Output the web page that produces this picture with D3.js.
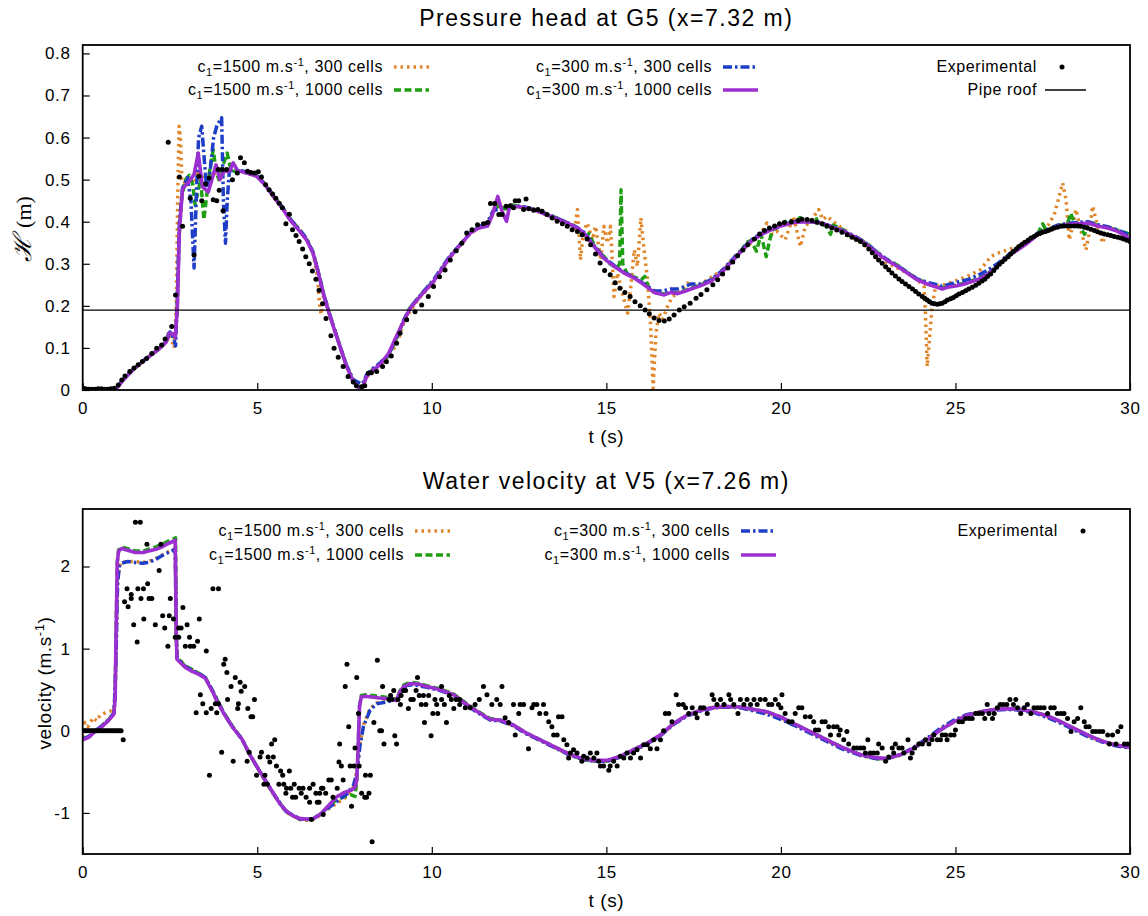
<!DOCTYPE html>
<html>
<head>
<meta charset="utf-8">
<script src="https://cdn.jsdelivr.net/npm/d3@7"></script>
<style>
body { margin: 0; background: #fff; }
svg text { font-family: "Liberation Sans", Arial, sans-serif; fill: #000; }
.ticklbl { font-size: 17px; letter-spacing: 0.7px; }
.title { font-size: 23px; letter-spacing: 1.5px; }
.legend { font-size: 16px; letter-spacing: 0.6px; }
.axlbl { font-size: 19px; letter-spacing: 0.6px; }
</style>
</head>
<body>
<svg id="chart" width="1148" height="916"></svg>
<script>
// ---- data ----
var xTicks = [0, 5, 10, 15, 20, 25, 30];
var headTicks = [0, 0.1, 0.2, 0.3, 0.4, 0.5, 0.6, 0.7, 0.8];
var velTicks = [-1, 0, 1, 2];
var pipeRoof = 0.19;

var legendSpeeds = ["1500", "1500", "300", "300"];
var legendCells = ["300", "1000", "300", "1000"];

// pressure head at G5 (t [s], H [m])
var headOrange = [[0,.003],[0.95,.002],[1.16,.024],[1.45,.049],[1.83,.075],[2.21,.099],[2.4,.115],[2.5,.13],[2.62,.1],[2.68,.2],[2.72,.45],[2.76,.627],[2.8,.6],[2.84,.5],[2.9,.49],[3.0,.505],[3.1,.5],[3.2,.49],[3.3,.515],[3.4,.49],[3.5,.51],[3.6,.5],[3.7,.52],[3.8,.515],[3.9,.525],[4.05,.52],[4.3,.525],[4.6,.518],[5.0,.508],[5.22,.49],[5.46,.462],[5.74,.432],[6.0,.4],[6.22,.38],[6.41,.36],[6.6,.325],[6.72,.27],[6.8,.19],[6.84,.18],[6.9,.225],[7.03,.19],[7.18,.151],[7.37,.103],[7.56,.056],[7.75,.02],[7.9,.006],[8.02,.008],[8.13,.03],[8.27,.045],[8.51,.058],[8.75,.078],[9.0,.11],[9.2,.16],[9.4,.19],[9.66,.22],[10.05,.256],[10.53,.315],[10.86,.348],[11.1,.372],[11.34,.384],[11.6,.392],[11.75,.42],[11.9,.445],[12.05,.43],[12.2,.43],[12.5,.435],[12.92,.428],[13.4,.412],[13.88,.396],[14.1,.385],[14.17,.429],[14.26,.309],[14.34,.373],[14.45,.397],[14.6,.357],[14.69,.389],[14.84,.309],[14.93,.389],[15.03,.349],[15.12,.389],[15.22,.222],[15.32,.278],[15.41,.246],[15.51,.214],[15.61,.183],[15.7,.246],[15.8,.333],[15.89,.294],[15.99,.409],[16.08,.333],[16.18,.262],[16.27,.151],[16.34,.004],[16.42,.135],[16.51,.183],[16.61,.167],[16.75,.198],[16.89,.222],[17.04,.229],[17.32,.254],[17.61,.246],[17.9,.262],[18.19,.278],[18.4,.29],[18.67,.317],[18.9,.335],[19.14,.349],[19.43,.373],[19.6,.397],[19.75,.37],[19.89,.377],[20.12,.357],[20.36,.413],[20.56,.341],[20.7,.39],[20.84,.4],[21.08,.429],[21.2,.405],[21.32,.413],[21.61,.393],[21.89,.377],[22.18,.357],[22.47,.341],[22.76,.325],[23.04,.302],[23.33,.29],[23.62,.278],[23.9,.262],[24.1,.246],[24.14,.183],[24.19,.056],[24.27,.135],[24.33,.198],[24.43,.246],[24.67,.25],[24.96,.258],[25.34,.27],[25.72,.286],[26.01,.317],[26.2,.325],[26.49,.333],[26.78,.341],[27.06,.357],[27.35,.365],[27.64,.389],[27.83,.417],[27.97,.46],[28.07,.492],[28.17,.452],[28.26,.357],[28.35,.389],[28.45,.429],[28.59,.381],[28.74,.333],[28.83,.373],[28.93,.437],[29.07,.389],[29.22,.349],[29.36,.389],[29.55,.381],[29.74,.373],[30,.365]];

var headGreen = [[0,.002],[0.95,.002],[1.16,.024],[1.45,.049],[1.83,.075],[2.21,.099],[2.4,.115],[2.47,.14],[2.58,.13],[2.65,.12],[2.71,.2],[2.76,.36],[2.84,.46],[2.95,.5],[3.05,.51],[3.15,.49],[3.22,.44],[3.3,.47],[3.38,.5],[3.47,.405],[3.55,.46],[3.65,.53],[3.74,.571],[3.82,.52],[3.9,.5],[4.0,.53],[4.14,.563],[4.25,.52],[4.5,.52],[4.98,.51],[5.22,.49],[5.46,.462],[5.74,.432],[5.93,.408],[6.22,.38],[6.41,.36],[6.6,.327],[6.75,.28],[6.89,.232],[7.03,.192],[7.18,.152],[7.37,.104],[7.56,.057],[7.75,.022],[7.9,.007],[8.02,.008],[8.13,.034],[8.27,.046],[8.51,.062],[8.75,.08],[9.0,.125],[9.19,.165],[9.38,.196],[9.66,.224],[10.05,.26],[10.53,.318],[10.86,.35],[11.1,.374],[11.34,.386],[11.6,.395],[11.8,.43],[11.95,.44],[12.1,.43],[12.3,.44],[12.6,.435],[12.92,.43],[13.4,.415],[13.88,.398],[14.17,.386],[14.3,.37],[14.4,.36],[14.5,.372],[14.65,.345],[14.8,.325],[14.93,.318],[15.1,.3],[15.3,.29],[15.38,.3],[15.42,.476],[15.47,.3],[15.6,.275],[15.8,.268],[16.0,.262],[16.1,.27],[16.2,.245],[16.37,.232],[16.66,.228],[16.85,.233],[17.04,.23],[17.23,.236],[17.42,.242],[17.71,.25],[17.99,.26],[18.29,.28],[18.57,.305],[18.86,.33],[19.0,.35],[19.14,.355],[19.3,.33],[19.43,.37],[19.58,.317],[19.65,.345],[19.75,.38],[20.0,.39],[20.2,.405],[20.36,.398],[20.55,.41],[20.75,.398],[21.0,.41],[21.08,.395],[21.3,.39],[21.42,.37],[21.5,.392],[21.8,.38],[22.0,.365],[22.18,.362],[22.47,.348],[22.76,.327],[23.04,.31],[23.33,.297],[23.62,.28],[23.9,.264],[24.19,.254],[24.48,.246],[24.62,.242],[24.77,.246],[25.05,.25],[25.34,.256],[25.63,.264],[25.91,.276],[26.2,.296],[26.49,.319],[26.78,.335],[27.06,.351],[27.35,.37],[27.5,.395],[27.6,.38],[27.93,.39],[28.21,.395],[28.3,.42],[28.4,.4],[28.5,.396],[28.7,.37],[28.79,.398],[29.07,.392],[29.36,.387],[29.65,.38],[30,.37]];

var headBlue = [[0,.003],[0.95,.002],[1.16,.026],[1.45,.05],[1.83,.076],[2.21,.1],[2.4,.116],[2.5,.138],[2.6,.125],[2.66,.105],[2.71,.22],[2.77,.4],[2.86,.48],[3.0,.505],[3.1,.45],[3.19,.29],[3.25,.45],[3.32,.6],[3.41,.627],[3.48,.55],[3.55,.48],[3.65,.52],[3.75,.6],[3.85,.63],[3.98,.647],[4.03,.45],[4.09,.349],[4.14,.45],[4.2,.52],[4.4,.525],[4.7,.518],[4.98,.51],[5.22,.49],[5.46,.462],[5.74,.432],[5.93,.408],[6.22,.38],[6.41,.36],[6.6,.327],[6.75,.28],[6.89,.232],[7.03,.192],[7.18,.152],[7.37,.104],[7.56,.058],[7.75,.025],[7.9,.018],[8.02,.015],[8.13,.036],[8.27,.048],[8.51,.064],[8.75,.082],[9.0,.125],[9.19,.165],[9.38,.196],[9.66,.224],[10.05,.262],[10.53,.32],[10.86,.35],[11.1,.374],[11.34,.386],[11.6,.4],[11.75,.425],[11.9,.43],[12.1,.435],[12.54,.437],[12.92,.43],[13.4,.415],[13.88,.398],[14.17,.386],[14.36,.375],[14.65,.343],[14.93,.315],[15.22,.296],[15.51,.28],[15.8,.268],[16.08,.252],[16.37,.236],[16.6,.235],[16.85,.24],[17.04,.24],[17.23,.245],[17.42,.252],[17.71,.252],[17.99,.262],[18.29,.282],[18.57,.307],[18.86,.332],[19.14,.356],[19.43,.372],[19.72,.383],[20.0,.392],[20.36,.4],[20.75,.401],[21.08,.399],[21.42,.39],[21.8,.378],[22.18,.363],[22.47,.347],[22.76,.327],[23.04,.31],[23.33,.296],[23.62,.28],[23.9,.264],[24.19,.256],[24.48,.25],[24.62,.246],[24.77,.25],[25.05,.256],[25.34,.262],[25.63,.272],[25.91,.284],[26.2,.3],[26.49,.32],[26.78,.337],[27.06,.353],[27.35,.372],[27.64,.382],[27.93,.392],[28.21,.396],[28.5,.398],[28.79,.4],[29.07,.393],[29.36,.388],[29.65,.38],[30,.368]];

var headPurple = [[0,.002],[0.5,.001],[0.95,.002],[1.16,.024],[1.45,.049],[1.83,.075],[2.21,.099],[2.4,.115],[2.47,.135],[2.58,.133],[2.65,.125],[2.71,.194],[2.77,.381],[2.86,.478],[3.09,.5],[3.19,.512],[3.31,.563],[3.43,.483],[3.6,.471],[3.82,.535],[3.93,.5],[4.05,.52],[4.2,.52],[4.31,.54],[4.43,.522],[4.69,.516],[4.98,.508],[5.22,.488],[5.46,.46],[5.74,.429],[5.93,.405],[6.22,.377],[6.41,.357],[6.6,.325],[6.75,.278],[6.89,.23],[7.03,.19],[7.18,.151],[7.37,.103],[7.56,.056],[7.75,.02],[7.9,.006],[8.02,.006],[8.13,.032],[8.27,.044],[8.51,.06],[8.75,.085],[9.0,.13],[9.19,.163],[9.38,.194],[9.66,.222],[10.05,.258],[10.53,.317],[10.86,.349],[11.1,.373],[11.34,.385],[11.6,.39],[11.72,.413],[11.89,.46],[12.01,.425],[12.14,.401],[12.23,.437],[12.54,.435],[12.92,.429],[13.4,.413],[13.88,.397],[14.17,.385],[14.36,.373],[14.65,.341],[14.93,.313],[15.22,.294],[15.51,.278],[15.8,.266],[16.08,.25],[16.37,.232],[16.66,.226],[16.85,.232],[17.04,.229],[17.23,.234],[17.42,.24],[17.71,.248],[17.99,.258],[18.29,.278],[18.57,.303],[18.86,.329],[19.14,.353],[19.43,.369],[19.72,.381],[20.0,.39],[20.36,.398],[20.75,.4],[21.08,.398],[21.42,.389],[21.8,.377],[22.18,.361],[22.47,.345],[22.76,.325],[23.04,.308],[23.33,.294],[23.62,.278],[23.9,.262],[24.19,.252],[24.48,.244],[24.62,.24],[24.77,.244],[25.05,.248],[25.34,.254],[25.63,.262],[25.91,.274],[26.2,.294],[26.49,.317],[26.78,.333],[27.06,.349],[27.35,.369],[27.64,.379],[27.93,.389],[28.21,.393],[28.5,.395],[28.79,.397],[29.07,.39],[29.36,.385],[29.65,.377],[30,.36]];

var headExp = [[0,.005],[0.08,.003],[0.17,.002],[0.26,.002],[0.35,.002],[0.44,.003],[0.53,.003],[0.62,.002],[0.71,.002],[0.8,.003],[0.9,.004],[1.02,.012],[1.12,.024],[1.21,.033],[1.35,.044],[1.47,.052],[1.59,.06],[1.71,.068],[1.83,.075],[1.98,.087],[2.12,.099],[2.26,.107],[2.36,.121],[2.45,.589],[2.55,.151],[2.66,.226],[2.77,.506],[2.86,.389],[3.08,.456],[3.19,.321],[3.33,.508],[3.41,.45],[3.52,.49],[3.62,.504],[3.74,.452],[3.84,.45],[3.88,.524],[3.91,.475],[4.0,.524],[4.02,.426],[4.12,.524],[4.29,.5],[4.43,.516],[4.52,.552],[4.63,.54],[4.72,.52],[4.82,.517],[4.93,.516],[5.03,.519],[5.12,.506],[5.24,.488],[5.34,.476],[5.44,.466],[5.53,.456],[5.63,.444],[5.72,.433],[5.82,.395],[5.92,.418],[6.01,.381],[6.11,.367],[6.2,.353],[6.3,.335],[6.39,.317],[6.49,.3],[6.58,.283],[6.68,.263],[6.77,.237],[6.87,.205],[6.97,.17],[7.11,.129],[7.2,.099],[7.32,.078],[7.46,.056],[7.6,.032],[7.75,.019],[7.84,.01],[7.99,.008],[8.08,.01],[8.18,.04],[8.27,.041],[8.42,.044],[8.59,.056],[8.7,.067],[8.84,.081],[8.99,.111],[9.09,.135],[9.28,.167],[9.52,.186],[9.71,.202],[9.9,.222],[10.05,.246],[10.22,.269],[10.38,.285],[10.53,.309],[10.7,.331],[10.86,.349],[11.0,.373],[11.15,.381],[11.31,.393],[11.48,.395],[11.6,.398],[11.68,.443],[11.8,.443],[11.92,.417],[12.01,.417],[12.13,.437],[12.25,.438],[12.34,.433],[12.39,.45],[12.49,.45],[12.63,.429],[12.7,.454],[12.78,.431],[12.92,.427],[13.04,.429],[13.16,.425],[13.3,.417],[13.45,.409],[13.59,.401],[13.74,.395],[13.88,.389],[14.02,.381],[14.17,.377],[14.31,.369],[14.45,.359],[14.55,.345],[14.69,.323],[14.82,.302],[14.95,.284],[15.11,.274],[15.25,.255],[15.39,.242],[15.53,.232],[15.68,.222],[15.82,.21],[15.97,.2],[16.11,.19],[16.23,.181],[16.37,.171],[16.51,.165],[16.66,.164],[16.8,.169],[16.94,.178],[17.09,.19],[17.23,.198],[17.4,.206],[17.57,.218],[17.71,.227],[17.88,.238],[18.05,.25],[18.19,.262],[18.33,.276],[18.48,.29],[18.62,.304],[18.76,.319],[18.91,.333],[19.05,.345],[19.24,.359],[19.39,.371],[19.53,.379],[19.67,.385],[19.82,.39],[19.96,.395],[20.1,.398],[20.3,.4],[20.49,.403],[20.6,.406],[20.75,.405],[20.89,.403],[21.03,.399],[21.18,.395],[21.32,.39],[21.46,.385],[21.6,.38],[21.75,.375],[21.9,.369],[22.04,.363],[22.16,.358],[22.28,.353],[22.4,.345],[22.52,.335],[22.62,.326],[22.71,.317],[22.8,.309],[22.9,.301],[23.0,.293],[23.09,.286],[23.18,.278],[23.28,.271],[23.38,.264],[23.47,.258],[23.57,.252],[23.67,.246],[23.77,.24],[23.86,.234],[23.95,.228],[24.05,.222],[24.12,.218],[24.19,.214],[24.26,.21],[24.33,.206],[24.4,.205],[24.48,.204],[24.55,.205],[24.62,.206],[24.7,.21],[24.77,.214],[24.86,.217],[24.94,.22],[25.02,.224],[25.1,.228],[25.2,.232],[25.29,.236],[25.38,.24],[25.48,.244],[25.58,.249],[25.67,.254],[25.76,.259],[25.84,.263],[25.92,.27],[26.01,.276],[26.1,.284],[26.18,.292],[26.26,.299],[26.34,.305],[26.42,.311],[26.51,.317],[26.58,.323],[26.66,.329],[26.74,.335],[26.82,.341],[26.9,.346],[26.99,.351],[27.08,.356],[27.16,.361],[27.25,.365],[27.33,.369],[27.41,.372],[27.49,.375],[27.58,.377],[27.66,.379],[27.75,.382],[27.83,.385],[27.92,.387],[28.02,.389],[28.11,.39],[28.21,.39],[28.3,.39],[28.4,.39],[28.5,.39],[28.59,.389],[28.69,.387],[28.78,.385],[28.88,.382],[28.98,.379],[29.07,.376],[29.17,.373],[29.26,.371],[29.36,.369],[29.45,.367],[29.55,.365],[29.65,.363],[29.74,.361],[29.82,.359],[29.91,.356],[30,.353]];

// water velocity at V5 (t [s], u [m/s])
var velOrange = [[0,-.08],[0.06,.1],[0.15,.05],[0.3,.16],[0.4,.12],[0.5,.19],[0.7,.23],[0.9,.25],[0.95,.9],[1.0,1.8],[1.05,2.0],[1.1,2.05],[1.3,2.06],[1.51,2.06],[1.7,2.05],[1.89,2.06],[2.1,2.1],[2.27,2.14],[2.45,2.18],[2.6,2.21],[2.65,2.22],[2.68,1.2],[2.7,.9],[2.94,.79],[3.32,.7],[3.51,.65],[3.74,.47],[4.03,.22],[4.3,.04],[4.56,-.1],[4.8,-.3],[5.08,-.51],[5.46,-.77],[5.82,-.99],[6.2,-1.08],[6.41,-1.09],[6.6,-1.08],[6.8,-1.03],[7.0,-.96],[7.29,-.88],[7.57,-.8],[7.76,-.68],[7.85,-.5],[7.94,-.17],[8.04,.07],[8.23,.27],[8.42,.34],[8.7,.36],[8.99,.39],[9.27,.56],[9.47,.58],[9.86,.54],[10.24,.5],[10.62,.44],[11.0,.32],[11.39,.21],[11.67,.14],[11.96,.12],[12.34,.06],[12.72,-.04],[13.11,-.12],[13.49,-.2],[13.87,-.28],[14.25,-.34],[14.64,-.37],[15.02,-.37],[15.4,-.32],[15.78,-.24],[16.17,-.16],[16.55,-.06],[16.93,.08],[17.31,.18],[17.7,.25],[18.08,.28],[18.46,.29],[18.84,.285],[19.23,.25],[19.61,.22],[19.99,.16],[20.36,.08],[20.84,-.02],[21.32,-.12],[21.8,-.22],[22.28,-.3],[22.76,-.34],[23.04,-.34],[23.43,-.3],[23.81,-.21],[24.19,-.1],[24.57,.02],[24.96,.12],[25.34,.2],[25.72,.23],[26.11,.26],[26.49,.27],[26.87,.26],[27.25,.23],[27.64,.17],[28.02,.1],[28.4,.02],[28.78,-.06],[29.17,-.13],[29.55,-.17],[30,-.2]];

var velGreen = [[0,-.1],[0.17,-.07],[0.35,0],[0.55,.06],[0.75,.14],[0.89,.21],[0.93,.4],[0.96,1.3],[0.99,2.05],[1.03,2.2],[1.12,2.24],[1.26,2.22],[1.51,2.19],[1.74,2.19],[1.89,2.21],[2.1,2.24],[2.27,2.27],[2.45,2.31],[2.62,2.34],[2.66,2.35],[2.68,1.2],[2.7,.89],[2.94,.79],[3.32,.7],[3.51,.65],[3.74,.47],[4.03,.23],[4.3,.05],[4.56,-.1],[4.8,-.3],[5.08,-.5],[5.46,-.77],[5.82,-.98],[6.2,-1.07],[6.41,-1.08],[6.6,-1.07],[6.8,-1.02],[7.0,-.94],[7.29,-.83],[7.5,-.8],[7.7,-.78],[7.8,-.8],[7.85,-.62],[7.89,-.2],[7.93,.3],[7.98,.43],[8.1,.44],[8.5,.42],[8.8,.4],[8.99,.38],[9.08,.48],[9.2,.56],[9.38,.59],[9.6,.58],[9.86,.55],[10.24,.51],[10.62,.45],[11.0,.33],[11.39,.22],[11.67,.15],[11.96,.13],[12.34,.07],[12.72,-.03],[13.11,-.11],[13.49,-.19],[13.87,-.27],[14.25,-.34],[14.64,-.37],[15.02,-.37],[15.4,-.31],[15.78,-.23],[16.17,-.15],[16.55,-.05],[16.93,.09],[17.31,.19],[17.7,.25],[18.08,.29],[18.46,.295],[18.84,.29],[19.23,.26],[19.61,.23],[19.99,.17],[20.36,.09],[20.84,-.01],[21.32,-.11],[21.8,-.21],[22.28,-.29],[22.76,-.34],[23.04,-.34],[23.43,-.29],[23.81,-.21],[24.19,-.11],[24.57,.01],[24.96,.11],[25.34,.19],[25.72,.23],[26.11,.26],[26.49,.27],[26.87,.26],[27.25,.23],[27.64,.18],[28.02,.11],[28.4,.03],[28.78,-.05],[29.17,-.12],[29.55,-.17],[30,-.2]];

var velBlue = [[0,-.1],[0.17,-.07],[0.35,0],[0.55,.06],[0.75,.14],[0.9,.22],[0.95,.8],[1.0,1.8],[1.05,2.0],[1.1,2.04],[1.3,2.06],[1.51,2.05],[1.7,2.04],[1.89,2.05],[2.1,2.09],[2.27,2.13],[2.45,2.17],[2.6,2.2],[2.65,2.21],[2.68,1.2],[2.7,.89],[2.94,.78],[3.32,.7],[3.51,.65],[3.74,.47],[4.03,.22],[4.3,.04],[4.56,-.1],[4.8,-.3],[5.08,-.5],[5.46,-.76],[5.82,-.98],[6.2,-1.07],[6.41,-1.08],[6.6,-1.07],[6.8,-1.02],[7.0,-.95],[7.29,-.86],[7.57,-.77],[7.76,-.66],[7.85,-.52],[7.94,-.19],[8.04,.05],[8.23,.25],[8.42,.33],[8.7,.35],[8.99,.38],[9.27,.55],[9.47,.56],[9.86,.53],[10.24,.49],[10.62,.43],[11.0,.31],[11.39,.2],[11.67,.13],[11.96,.12],[12.34,.06],[12.72,-.04],[13.11,-.12],[13.49,-.2],[13.87,-.28],[14.25,-.34],[14.64,-.37],[15.02,-.37],[15.4,-.32],[15.78,-.24],[16.17,-.16],[16.55,-.06],[16.93,.08],[17.31,.18],[17.7,.24],[18.08,.28],[18.46,.29],[18.84,.28],[19.23,.24],[19.61,.2],[19.99,.14],[20.36,.07],[20.84,-.03],[21.32,-.13],[21.8,-.23],[22.28,-.3],[22.76,-.34],[23.04,-.34],[23.43,-.29],[23.81,-.2],[24.19,-.09],[24.57,.03],[24.96,.13],[25.34,.2],[25.72,.23],[26.11,.25],[26.49,.26],[26.87,.25],[27.25,.22],[27.64,.16],[28.02,.09],[28.4,.01],[28.78,-.07],[29.17,-.13],[29.55,-.18],[30,-.21]];

var velPurple = [[0,-.11],[0.17,-.08],[0.35,-.01],[0.55,.05],[0.75,.13],[0.89,.2],[0.93,.4],[0.96,1.3],[0.99,2.05],[1.03,2.19],[1.12,2.22],[1.26,2.2],[1.51,2.17],[1.74,2.17],[1.89,2.19],[2.1,2.21],[2.27,2.24],[2.45,2.28],[2.62,2.31],[2.65,2.32],[2.68,1.2],[2.7,.87],[2.94,.77],[3.1,.73],[3.32,.69],[3.51,.64],[3.74,.46],[3.8,.4],[4.03,.22],[4.3,.04],[4.56,-.1],[4.8,-.3],[5.08,-.5],[5.3,-.65],[5.46,-.76],[5.65,-.89],[5.82,-.97],[6.0,-1.03],[6.2,-1.065],[6.41,-1.075],[6.6,-1.07],[6.8,-1.02],[7.0,-.93],[7.15,-.86],[7.29,-.8],[7.5,-.75],[7.7,-.72],[7.8,-.69],[7.85,-.6],[7.89,-.2],[7.93,.3],[7.98,.41],[8.1,.42],[8.5,.4],[8.8,.39],[8.99,.37],[9.08,.47],[9.2,.54],[9.38,.575],[9.6,.57],[9.86,.54],[10.24,.5],[10.62,.44],[11.0,.32],[11.39,.21],[11.67,.14],[11.96,.13],[12.34,.07],[12.72,-.03],[13.11,-.11],[13.49,-.19],[13.87,-.27],[14.25,-.33],[14.64,-.36],[15.02,-.36],[15.4,-.31],[15.78,-.23],[16.17,-.15],[16.55,-.05],[16.93,.09],[17.31,.19],[17.7,.25],[18.08,.285],[18.46,.295],[18.84,.29],[19.23,.26],[19.61,.23],[19.99,.17],[20.36,.09],[20.84,-.01],[21.32,-.11],[21.8,-.21],[22.28,-.29],[22.76,-.33],[23.04,-.335],[23.43,-.29],[23.81,-.21],[24.19,-.11],[24.57,.01],[24.96,.11],[25.34,.19],[25.72,.23],[26.11,.26],[26.49,.27],[26.87,.26],[27.25,.23],[27.64,.18],[28.02,.11],[28.4,.03],[28.78,-.05],[29.17,-.12],[29.55,-.17],[30,-.2]];

var velExp = [[0,0],[0.05,0],[0.1,0],[0.15,0],[0.2,0],[0.25,0],[0.3,0],[0.35,0],[0.4,0],[0.45,0],[0.5,0],[0.55,0],[0.6,0],[0.65,0],[0.7,0],[0.75,0],[0.8,0],[0.85,0],[0.9,0],[0.95,0],[1.0,0],[1.05,0],[1.1,0],[1.16,-.11],
[1.2,1.57],[1.27,1.73],[1.3,1.51],[1.39,1.66],[1.39,1.61],[1.46,1.29],[1.51,2.54],[1.56,1.08],[1.58,1.73],[1.65,2.54],[1.67,1.61],[1.74,1.73],[1.75,1.36],[1.84,2.27],[1.86,1.79],[1.9,1.61],[1.98,1.61],[2.08,1.29],[2.19,1.95],[2.24,2.27],[2.29,1.4],[2.35,1.25],[2.44,1.03],[2.48,1.4],[2.51,1.61],[2.6,1.36],[2.65,1.14],[2.75,1.25],[2.75,1.14],[2.82,1.25],[2.87,1.5],[2.94,1.03],[2.99,1.29],[3.06,1.14],[3.08,1.03],[3.18,1.03],
[3.25,.22],[3.29,1.09],[3.34,1.36],[3.37,.44],[3.44,.33],[3.54,.97],[3.54,.22],[3.63,-.54],[3.68,.27],[3.73,1.73],[3.8,.33],[3.84,.22],[3.89,.33],[3.89,1.73],[3.98,-.26],[4.04,.81],[4.08,.87],[4.13,.71],[4.15,.38],[4.25,.54],[4.31,-.37],[4.37,.65],[4.44,.27],[4.46,.33],[4.51,.59],[4.54,.48],[4.64,.54],[4.71,-.37],[4.73,.27],[4.77,-.26],[4.82,.17],[4.87,.17],[4.92,.38],[4.98,-.54],
[5.08,-.32],[5.12,-.26],[5.19,-.65],[5.22,-.54],[5.29,-.65],[5.31,-.32],[5.36,-.38],[5.41,-.16],[5.46,-.32],[5.5,-.11],[5.55,-.43],[5.62,-.65],[5.67,-.49],[5.73,-.54],[5.76,-.65],[5.82,-.76],[5.84,-.7],[5.92,-.49],[5.96,-.7],[6.01,-.81],[6.06,-.65],[6.1,-.81],[6.2,-.7],[6.26,-.76],[6.31,-.7],[6.4,-.81],[6.5,-.7],[6.5,-.87],[6.55,-1.08],[6.6,-.65],[6.68,-.76],[6.72,-.87],[6.77,-.87],[6.79,-.76],[6.84,-.7],[6.88,-.7],[6.89,-1.02],[6.96,-.76],[7.05,-.6],[7.12,-.6],[7.17,-.81],[7.29,-.7],[7.34,-.38],[7.36,-.16],[7.41,-.43],[7.46,-.6],[7.52,.54],[7.57,.81],[7.62,.05],[7.66,-.43],[7.7,-.92],[7.77,-.43],[7.8,-.21],[7.85,.65],[7.9,.21],[7.92,-.43],[7.99,-.76],[8.08,-.81],[8.1,-.54],[8.13,-.81],[8.2,-.76],[8.24,-.54],[8.29,-1.35],[8.34,.1],[8.44,.86],[8.51,0],[8.56,0],[8.59,.54],[8.63,-.16],[8.77,.38],[8.82,.43],[8.86,.38],[8.91,.49],[8.94,-.06],[8.99,-.16],[9.03,.38],[9.1,.32],[9.12,.43],[9.19,.49],[9.25,.49],[9.33,.27],[9.4,.38],[9.47,.38],[9.55,.49],[9.59,.65],[9.64,.43],[9.7,.32],[9.76,.43],[9.79,.1],[9.83,.32],[9.91,.43],[9.98,-.06],[10.03,.21],[10.09,.38],[10.14,.32],[10.17,.21],[10.28,.54],[10.28,.38],[10.36,.32],[10.42,.1],[10.5,.43],[10.56,.38],[10.63,.27],[10.7,.38],[10.8,.38],[10.8,.32],
[10.96,.28],[11.1,.28],[11.24,.32],[11.36,.38],[11.48,.54],[11.58,.44],[11.72,.32],[11.86,.38],[11.96,.32],[12.01,.54],[12.1,.16],[12.2,.1],[12.34,.32],[12.39,-.05],[12.49,.21],[12.53,.32],[12.63,.32],[12.77,-.22],[12.87,.28],[12.92,.32],[13.01,.32],[13.09,.21],[13.2,.32],[13.27,.21],[13.35,.11],[13.44,.05],[13.49,-.05],[13.59,-.05],[13.63,.17],[13.73,.17],[13.78,-.11],[13.87,-.17],[13.92,-.33],[13.97,-.27],[14.06,-.23],[14.16,-.27],[14.3,-.37],[14.35,-.31],[14.45,-.33],[14.54,-.27],[14.64,-.33],[14.73,-.27],[14.78,-.37],[14.83,-.43],[14.92,-.43],[15.07,-.48],[15.11,-.43],[15.21,-.37],[15.31,-.43],[15.4,-.31],[15.5,-.33],[15.59,-.27],[15.69,-.33],[15.78,-.27],[15.88,-.23],[15.98,-.33],[16.07,-.17],[16.17,-.17],[16.26,-.22],[16.36,-.11],[16.45,-.22],[16.55,-.11],[16.64,0],[16.69,.21],[16.79,.21],[16.88,.11],[17.0,.44],[17.07,.32],[17.2,.32],[17.27,.28],[17.36,.21],[17.46,.28],[17.55,.21],[17.6,.16],[17.7,.28],[17.79,.28],[17.89,.21],[18.03,.44],[18.08,.38],[18.17,.32],[18.27,.38],[18.37,.32],[18.51,.44],[18.56,.38],[18.65,.32],[18.77,.21],[18.84,.38],[18.94,.32],[19.03,.38],[19.13,.32],[19.23,.38],[19.32,.32],
[19.41,.38],[19.55,.38],[19.65,.32],[19.74,.32],[19.84,.38],[19.93,.32],[20.03,.44],[20.0,.28],[20.12,.21],[20.22,.11],[20.32,.11],[20.41,.21],[20.51,.28],[20.6,.28],[20.7,.17],[20.84,.17],[20.94,.11],[20.99,.01],[21.08,.01],[21.18,.11],[21.27,.11],[21.37,.05],[21.42,-.05],[21.51,.05],[21.61,.05],[21.66,-.05],[21.7,.01],[21.8,-.11],[21.89,-.01],[21.94,-.16],[22.09,-.21],[22.18,-.21],[22.28,-.21],[22.37,-.21],[22.42,-.27],[22.49,-.11],[22.56,-.27],[22.66,-.27],[22.76,-.27],[22.8,-.16],[22.9,-.21],[23.0,-.37],[23.09,-.32],[23.19,-.21],[23.23,-.27],[23.28,-.16],[23.38,-.21],[23.47,-.21],[23.52,-.27],[23.64,-.11],[23.71,-.33],[23.76,-.27],[23.83,-.21],[23.95,-.16],[24.05,-.16],[24.14,-.11],[24.24,-.16],[24.33,-.11],[24.38,-.05],[24.48,-.11],[24.57,-.11],[24.62,-.05],[24.72,-.05],[24.76,-.11],[24.86,-.05],[24.96,-.05],[25.0,.01],[25.1,.11],[25.2,.11],[25.29,.15],[25.39,.15],[25.48,.15],[25.58,.21],[25.67,.21],[25.77,.21],[25.84,.15],[25.91,.32],[25.96,.21],[26.06,.15],[26.11,.21],[26.2,.28],[26.28,.32],[26.37,.32],[26.47,.32],[26.56,.38],[26.66,.32],[26.73,.38],[26.78,.28],[26.87,.21],[26.97,.28],[27.06,.32],[27.16,.21],[27.25,.28],[27.35,.28],[27.44,.28],[27.54,.28],[27.64,.21],[27.73,.28],[27.83,.28],[27.92,.21],[28.02,.21],[28.11,.21],[28.21,.15],[28.31,-.01],[28.4,.11],[28.5,.15],[28.59,.28],[28.69,.11],[28.74,.05],[28.83,.05],[28.93,-.01],[29.02,-.01],[29.12,-.01],[29.22,-.01],[29.36,-.05],[29.41,-.16],[29.5,-.05],[29.6,-.16],[29.65,-.01],[29.74,.05],[29.84,-.16],[29.93,-.16]];

// ---- drawing ----
var svg = d3.select("#chart");
var x = d3.scaleLinear().domain([0, 30]).range([82.7, 1130]);

var styles = [
  {color: "#e0862a", width: 3.5, dash: "2.5,4"},
  {color: "#1f9e14", width: 3.5, dash: "7,3.5"},
  {color: "#1f3ec8", width: 3.5, dash: "9,3,2.5,3"},
  {color: "#9b2fcf", width: 3.6, dash: null}
];

function legendLabel(sel, speed, cells) {
  sel.append("tspan").text("c");
  sel.append("tspan").attr("dy", 4).attr("font-size", "11px").text("1");
  sel.append("tspan").attr("dy", -4).text("=" + speed + " m.s");
  sel.append("tspan").attr("dy", -6).attr("font-size", "11px").text("-1");
  sel.append("tspan").attr("dy", 6).text(", " + cells + " cells");
}

function drawPanel(p) {
  var g = svg.append("g");
  var y = d3.scaleLinear().domain(p.yDomain).range([p.bottom, p.top]);
  var x0 = x.range()[0], x1 = x.range()[1];

  svg.append("clipPath").attr("id", "clip" + p.id).append("rect")
    .attr("x", x0).attr("y", p.top).attr("width", x1 - x0).attr("height", p.bottom - p.top);

  var xa = g.append("g").attr("transform", "translate(0," + p.bottom + ")")
    .call(d3.axisBottom(x).tickValues(xTicks).tickSize(-7).tickPadding(12).tickFormat(function(d) { return String(d); }));
  var ya = g.append("g").attr("transform", "translate(" + x0 + ",0)")
    .call(d3.axisLeft(y).tickValues(p.yTicks).tickSize(-7).tickPadding(12).tickFormat(p.fmt));
  [xa, ya].forEach(function(a) {
    a.select(".domain").remove();
    a.selectAll(".tick line").attr("stroke-width", 1.2);
    a.selectAll("text").attr("class", "ticklbl");
  });

  var line = d3.line().x(function(d) { return x(d[0]); }).y(function(d) { return y(d[1]); });
  var plot = g.append("g").attr("clip-path", "url(#clip" + p.id + ")");
  p.series.forEach(function(s, i) {
    plot.append("path").datum(s)
      .attr("d", line)
      .attr("fill", "none")
      .attr("stroke", styles[i].color)
      .attr("stroke-width", styles[i].width)
      .attr("stroke-dasharray", styles[i].dash)
      .attr("stroke-linejoin", "round");
  });
  plot.selectAll("circle.exp").data(p.exp).enter().append("circle")
    .attr("class", "exp")
    .attr("cx", function(d) { return x(d[0]); })
    .attr("cy", function(d) { return y(d[1]); })
    .attr("r", 2.5)
    .attr("fill", "#000");
  if (p.roof != null) {
    plot.append("line")
      .attr("x1", x0).attr("x2", x1)
      .attr("y1", y(p.roof)).attr("y2", y(p.roof))
      .attr("stroke", "#000").attr("stroke-width", 1.3);
  }

  // frame
  g.append("rect").attr("x", x0).attr("y", p.top).attr("width", x1 - x0).attr("height", p.bottom - p.top)
    .attr("fill", "none").attr("stroke", "#000").attr("stroke-width", 1.8);

  // title and axis labels
  g.append("text").attr("class", "title").attr("x", (x0 + x1) / 2).attr("y", p.titleY)
    .attr("text-anchor", "middle").text(p.title);
  g.append("text").attr("class", "axlbl").attr("x", (x0 + x1) / 2).attr("y", p.bottom + 53)
    .attr("text-anchor", "middle").text("t (s)");
  p.ylabel(g);

  // legend
  var L = p.legend;
  for (var i = 0; i < 4; i++) {
    var col = Math.floor(i / 2), row = i % 2;
    var ly = L.rows[row];
    var t = g.append("text").attr("class", "legend")
      .attr("x", L.cols[col]).attr("y", ly + 5).attr("text-anchor", "end");
    legendLabel(t, legendSpeeds[i], legendCells[i]);
    g.append("line")
      .attr("x1", L.cols[col] + 11).attr("x2", L.cols[col] + 46)
      .attr("y1", ly).attr("y2", ly)
      .attr("stroke", styles[i].color).attr("stroke-width", styles[i].width)
      .attr("stroke-dasharray", styles[i].dash);
  }
  g.append("text").attr("class", "legend").attr("x", L.cols[2]).attr("y", L.rows[0] + 5)
    .attr("text-anchor", "end").text("Experimental");
  g.append("circle").attr("cx", L.cols[2] + 25).attr("cy", L.rows[0]).attr("r", 2.5).attr("fill", "#000");
  if (p.roof != null) {
    g.append("text").attr("class", "legend").attr("x", L.cols[2]).attr("y", L.rows[1] + 5)
      .attr("text-anchor", "end").text("Pipe roof");
    g.append("line").attr("x1", L.cols[2] + 8).attr("x2", L.cols[2] + 49)
      .attr("y1", L.rows[1]).attr("y2", L.rows[1])
      .attr("stroke", "#000").attr("stroke-width", 1.3);
  }
}

drawPanel({
  id: "h", top: 45, bottom: 390, yDomain: [0, 0.82], yTicks: headTicks,
  fmt: function(d) { return d === 0 ? "0" : d.toFixed(1); },
  series: [headOrange, headGreen, headBlue, headPurple], exp: headExp, roof: pipeRoof,
  title: "Pressure head at G5 (x=7.32 m)", titleY: 26,
  legend: {rows: [67, 90], cols: [383, 712, 1037]},
  ylabel: function(g) {
    var t = g.append("text").attr("transform", "translate(31,229) rotate(-90)")
      .attr("text-anchor", "middle");
    t.append("tspan").attr("font-family", "'DejaVu Serif', serif").attr("font-style", "italic")
      .attr("font-size", "25px").text("\u210B");
    t.append("tspan").attr("font-family", "'Liberation Serif', 'Times New Roman', serif")
      .attr("font-size", "22px").attr("dx", 8).text("(m)");
  }
});

drawPanel({
  id: "v", top: 509, bottom: 854, yDomain: [-1.5, 2.7], yTicks: velTicks,
  fmt: function(d) { return String(d); },
  series: [velOrange, velGreen, velBlue, velPurple], exp: velExp, roof: null,
  title: "Water velocity at V5 (x=7.26 m)", titleY: 489,
  legend: {rows: [531, 555], cols: [404, 730, 1058]},
  ylabel: function(g) {
    var t = g.append("text").attr("class", "axlbl").attr("transform", "translate(51,683) rotate(-90)")
      .attr("text-anchor", "middle");
    t.append("tspan").text("velocity (m.s");
    t.append("tspan").attr("dy", -7).attr("font-size", "13px").text("-1");
    t.append("tspan").attr("dy", 7).text(")");
  }
});
</script>
</body>
</html>
